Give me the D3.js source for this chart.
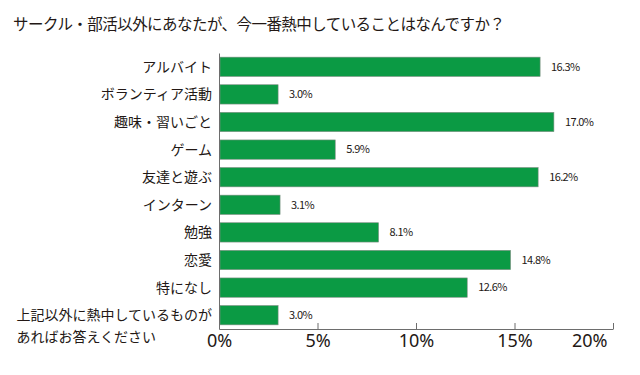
<!DOCTYPE html>
<html>
<head>
<meta charset="utf-8">
<script src="https://cdn.jsdelivr.net/npm/d3@7"></script>
<style>
  body { margin: 0; background: #fff; }
  text { font-family: "Noto Sans CJK JP", sans-serif; fill: #231815; }
</style>
</head>
<body>
<svg id="drawing_region"></svg>
<script>
const title = "サークル・部活以外にあなたが、今一番熱中していることはなんですか？";
const categories = ["アルバイト", "ボランティア活動", "趣味・習いごと", "ゲーム", "友達と遊ぶ",
    "インターン", "勉強", "恋愛", "特になし", "上記以外に熱中しているものが|あればお答えください"];
const values = [16.3, 3.0, 17.0, 5.9, 16.2, 3.1, 8.1, 14.8, 12.6, 3.0];
const ticks = [0, 5, 10, 15, 20];

const width = 640, height = 375;
const margin = {top: 53, right: 27, bottom: 46, left: 219};

const svg = d3.select('#drawing_region')
    .attr('width', width)
    .attr('height', height);

svg.append('text')
    .attr('x', 13)
    .attr('y', 30)
    .attr('font-size', 15.5)
    .attr('letter-spacing', -0.55)
    .text(title);

const chart = svg.append('g')
    .attr('transform', `translate(${margin.left}, ${margin.top})`);

const inner_width = width - margin.left - margin.right;
const inner_height = height - margin.top - margin.bottom;

const xscale = d3.scaleLinear()
    .domain([0, 20])
    .range([0, inner_width]);

const yscale = d3.scaleBand()
    .domain(categories)
    .range([0, inner_height])
    .paddingInner(0.3)
    .paddingOuter(0.15);

// bars
chart.selectAll('.bar')
    .data(values)
    .enter()
    .append('rect')
    .attr('x', 1)
    .attr('y', (d, i) => yscale(categories[i]))
    .attr('width', d => xscale(d) - 1)
    .attr('height', yscale.bandwidth())
    .attr('fill', '#0b9a44')
    .attr('stroke', '#7f8f84')
    .attr('stroke-width', 0.6);

// value labels
chart.selectAll('.val')
    .data(values)
    .enter()
    .append('text')
    .attr('x', d => xscale(d) + 11)
    .attr('y', (d, i) => yscale(categories[i]) + yscale.bandwidth() / 2)
    .attr('dy', '0.35em')
    .attr('font-size', 11)
    .attr('letter-spacing', -0.6)
    .text(d => d.toFixed(1) + '%');

// x axis
const xaxis = d3.axisBottom(xscale)
    .tickValues(ticks)
    .tickSize(-6)
    .tickSizeOuter(0)
    .tickFormat(d => d + '%');

const xaxis_group = chart.append('g')
    .attr('transform', `translate(0, ${inner_height})`)
    .call(xaxis);
xaxis_group.select('.domain').attr('stroke', '#6d6d6d');
xaxis_group.selectAll('.tick line').attr('stroke', '#6d6d6d');
xaxis_group.selectAll('.tick text')
    .attr('font-size', 18)
    .attr('y', 5)
    .attr('dy', '0.71em')
    .style('font-family', '"Noto Sans", sans-serif')
    .attr('fill', '#231815');
// last tick label sits inside the chart edge
xaxis_group.selectAll('.tick text')
    .filter(d => d === ticks[ticks.length - 1])
    .attr('text-anchor', 'end')
    .attr('x', -6);

// y axis
const yaxis = d3.axisLeft(yscale)
    .tickSize(0)
    .tickSizeOuter(0)
    .tickFormat('');
const yaxis_group = chart.append('g').call(yaxis);
yaxis_group.select('.domain').attr('stroke', '#6d6d6d');

// category labels
categories.forEach((c, i) => {
    const yc = yscale(c) + yscale.bandwidth() / 2;
    const lines = c.split('|');
    const t = chart.append('text')
        .attr('x', -7)
        .attr('y', yc)
        .attr('dy', '0.35em')
        .attr('font-size', 14)
        .attr('text-anchor', 'end')
        .text(lines[0]);
    if (lines.length > 1) {
        const w = t.node().getComputedTextLength();
        chart.append('text')
            .attr('x', -7 - w)
            .attr('y', yc + 22)
            .attr('dy', '0.35em')
            .attr('font-size', 14)
            .text(lines[1]);
    }
});
</script>
</body>
</html>
